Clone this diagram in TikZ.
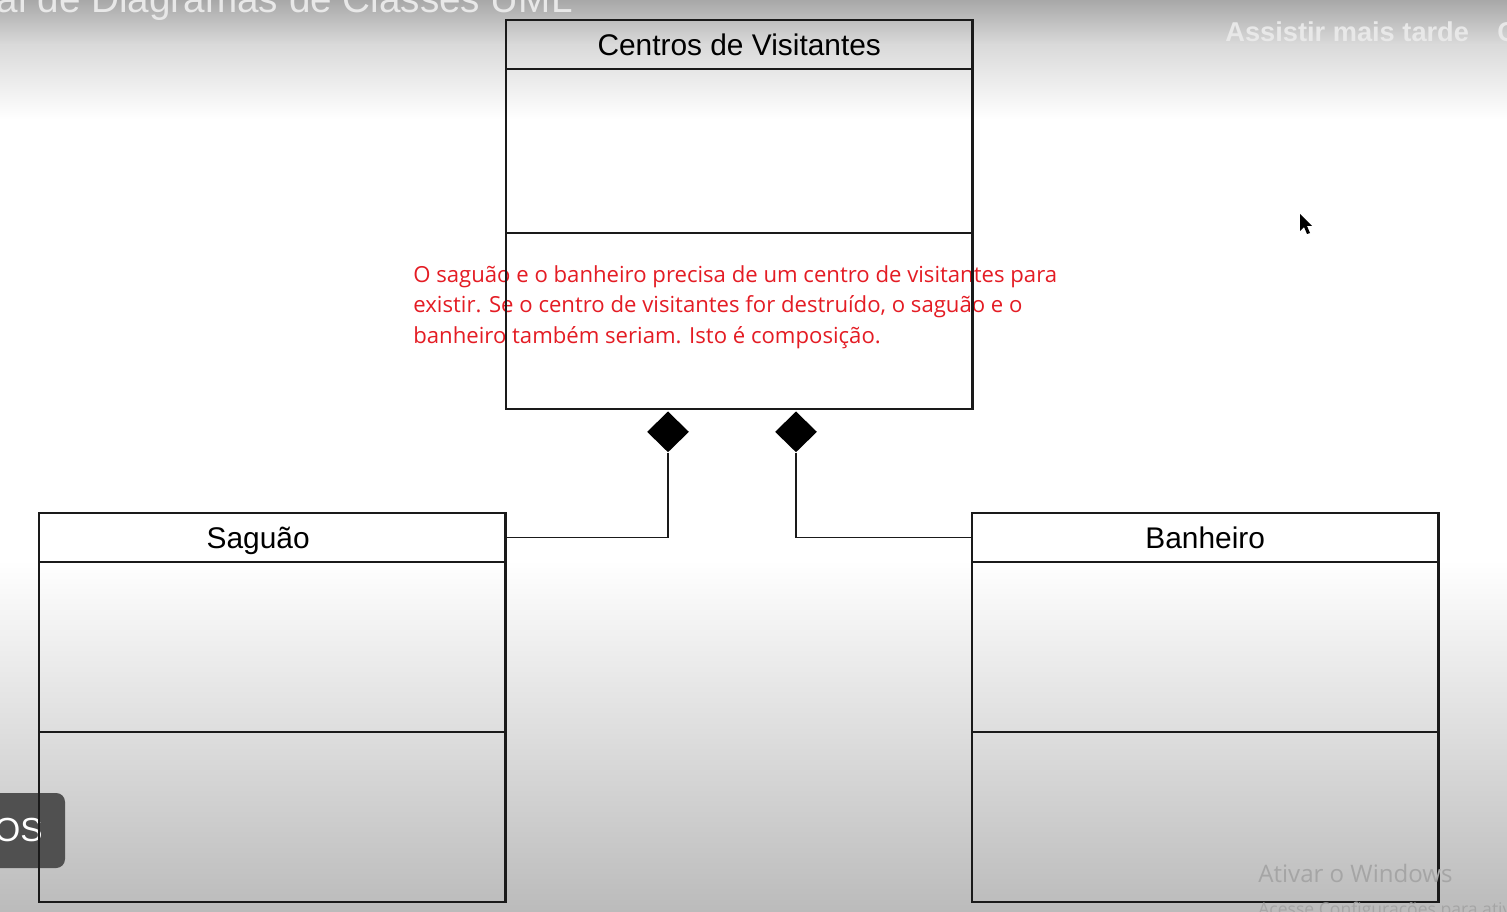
\documentclass[tikz,border=0pt]{standalone}
\usepackage{fontspec}
\setmainfont{Liberation Sans}
\newfontfamily\notafont{Open Sans}
\usepackage{tikz}
\usetikzlibrary{positioning,shapes.geometric}

\definecolor{fundotopo}{RGB}{168,168,168}
\definecolor{fundomeio}{RGB}{218,218,218}
\definecolor{fundobase}{RGB}{187,187,187}
\definecolor{linha}{RGB}{26,26,26}
\definecolor{vermelho}{RGB}{228,28,36}
\definecolor{sobreposto}{RGB}{232,232,232}
\definecolor{botao}{RGB}{80,80,80}
\definecolor{marca}{RGB}{165,165,165}

\tikzset{
  classname/.style={draw=linha, line width=1.4pt, minimum width=9.33cm, minimum height=0.98cm,
    inner sep=0pt, outer sep=0pt, text height=12.2pt, text depth=0pt,
    font=\fontsize{17}{20}\selectfont},
  classpart/.style={draw=linha, line width=1.4pt, minimum width=9.33cm, inner sep=0pt, outer sep=0pt},
  comp/.style={diamond, fill=black, minimum width=0.84cm, minimum height=0.82cm, inner sep=0pt},
  conn/.style={draw=linha, line width=1.1pt},
}

\begin{document}
\begin{tikzpicture}[x=0.02cm, y=-0.02cm]

  % 画布
  \useasboundingbox (0,0) rectangle (1507,912);
  \clip (0,0) rectangle (1507,912);

  % 背景渐变(视频截图)
  \shade[top color=fundotopo, bottom color=fundomeio] (0,0) rectangle (1507,45);
  \shade[top color=fundomeio, bottom color=white] (0,45) rectangle (1507,120);
  \fill[white] (0,120) rectangle (1507,560);
  \shade[top color=white, bottom color=fundobase] (0,560) rectangle (1507,912);

  % 视频上的覆盖文字
  \node[anchor=base east, text=sobreposto, inner sep=0pt, font=\fontsize{22}{24}\selectfont]
    (titulo) at (573,13) {al de Diagramas de Classes UML};
  \node[anchor=base west, text=sobreposto, inner sep=0pt, font=\bfseries\fontsize{15.5}{18}\selectfont]
    (depois) at (1225,42) {Assistir mais tarde};
  \node[anchor=base west, text=sobreposto, inner sep=0pt, font=\bfseries\fontsize{15.5}{18}\selectfont]
    (partilha) at (1497,42) {C};
  \fill[botao, rounded corners=5pt] (-20,793) rectangle (65,868);
  \node[anchor=base east, text=white, inner sep=0pt, font=\fontsize{19}{22}\selectfont]
    (botao) at (43,841) {OS};

  % 鼠标指针
  \fill[black] (1300,214) -- (1300,231) -- (1304,227) -- (1307,234) -- (1310,233)
    -- (1307,226) -- (1312,226) -- cycle;

  % 说明文字(base = 最后一行基线)
  \node[anchor=base west, align=left, text=vermelho, inner sep=0pt,
    font=\notafont\fontsize{12.6}{17.2}\selectfont] (nota) at (413,343)
    {O saguão e o banheiro precisa de um centro de visitantes para\\
     existir. Se o centro de visitantes for destruído, o saguão e o\\
     banheiro também seriam. Isto é composição.};

  % 类:Centros de Visitantes
  \node[classname, anchor=north west] (centros) at (506,20) {Centros de Visitantes};
  \node[classpart, minimum height=3.28cm, below=0pt of centros] (centros-attr) {};
  \node[classpart, minimum height=3.52cm, below=0pt of centros-attr] (centros-met) {};

  % 类:Saguão(名字略偏左)
  \node[classname, anchor=north west] (saguao) at (39,513) {Saguão\hspace{0.56cm}\mbox{}};
  \node[classpart, minimum height=3.4cm, below=0pt of saguao] (saguao-attr) {};
  \node[classpart, minimum height=3.4cm, below=0pt of saguao-attr] (saguao-met) {};

  % 类:Banheiro
  \node[classname, anchor=north west] (banheiro) at (972,513) {Banheiro};
  \node[classpart, minimum height=3.4cm, below=0pt of banheiro] (banheiro-attr) {};
  \node[classpart, minimum height=3.4cm, below=0pt of banheiro-attr] (banheiro-met) {};

  % 组合(实心菱形)
  \node[comp, anchor=north] (comp-sag) at (668,411) {};
  \node[comp, anchor=north] (comp-ban) at (796,411) {};
  \draw[conn] (comp-sag.south) |- (saguao.east);
  \draw[conn] (comp-ban.south) |- (banheiro.west);

  % 水印
  \node[anchor=base west, text=marca, inner sep=0pt, font=\notafont\fontsize{13.7}{16}\selectfont]
    (ativar) at (1258,882) {Ativar o Windows};
  \node[anchor=base west, text=marca, inner sep=0pt, font=\notafont\fontsize{10}{12}\selectfont]
    (acesse) at (1258,915) {Acesse Configurações para ativar o Windows.};

\end{tikzpicture}
\end{document}
